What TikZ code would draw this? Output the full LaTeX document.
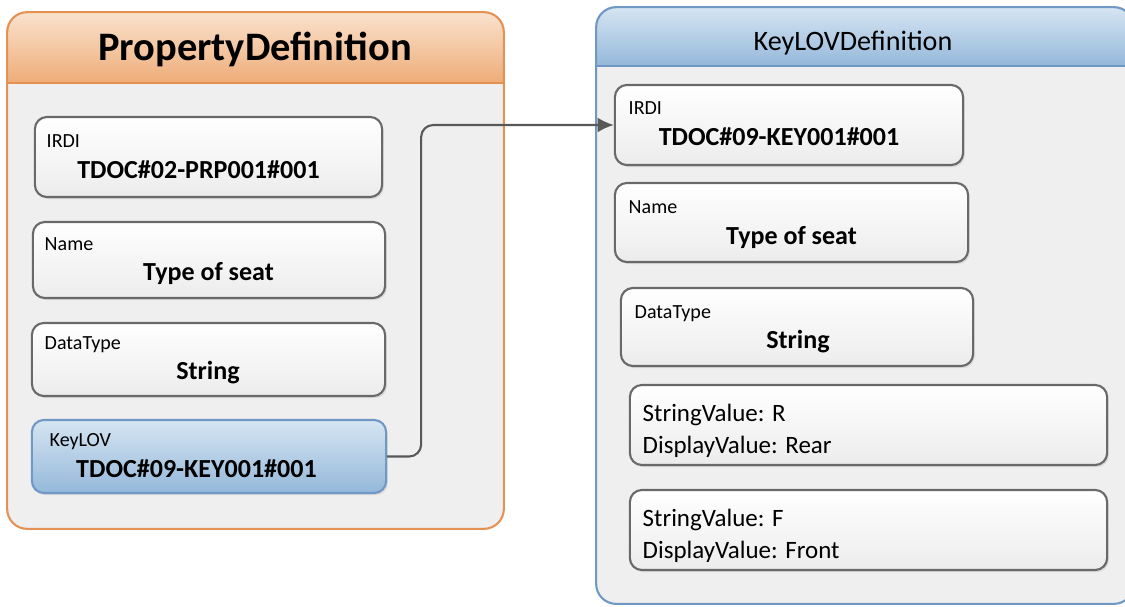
\documentclass[tikz,border=0pt]{standalone}
\usepackage{fontspec}
\setmainfont{Carlito}
\usetikzlibrary{arrows.meta,shadows}

\definecolor{panelbg}{RGB}{239,239,239}
\definecolor{orangeline}{RGB}{228,146,84}
\definecolor{orangetop}{RGB}{250,226,206}
\definecolor{orangebot}{RGB}{238,172,120}
\definecolor{blueline}{RGB}{112,152,196}
\definecolor{bluetop}{RGB}{214,229,242}
\definecolor{bluebot}{RGB}{148,184,218}
\definecolor{fieldline}{RGB}{105,105,105}
\definecolor{fieldbot}{RGB}{236,236,236}
\definecolor{linkcol}{RGB}{88,88,88}

\begin{document}
\begin{tikzpicture}[
  x=0.01cm, y=-0.01cm,
  panel/.style={
    rectangle, rounded corners=0.2cm, fill=panelbg, inner sep=0pt
  },
  field/.style={
    draw=fieldline, line width=0.6pt, rectangle, rounded corners=0.12cm,
    top color=white, bottom color=fieldbot, inner sep=0pt,
    drop shadow={shadow xshift=0.5pt, shadow yshift=-0.6pt, opacity=0.18}
  },
  keyfield/.style={
    field, draw=blueline, top color=bluetop, bottom color=bluebot
  },
  title/.style={anchor=base, inner sep=0pt, font=\fontsize{11.5}{14}\selectfont\bfseries},
  subtitle/.style={anchor=base, inner sep=0pt, font=\fontsize{8}{10}\selectfont},
  lbl/.style={anchor=base west, inner sep=0pt, font=\fontsize{5.7}{7}\selectfont},
  val/.style={anchor=base, inner sep=0pt, font=\fontsize{7.4}{9}\selectfont\bfseries},
  pair/.style={anchor=west, inner sep=0pt, align=left, font=\fontsize{7.1}{9.1}\selectfont},
  link/.style={draw=linkcol, line width=0.6pt, rounded corners=0.12cm,
    -{Latex[length=4.6pt,width=4.2pt]}},
]
\useasboundingbox (0,0) rectangle (1125,606);

% the two definition panels
\node[panel, minimum width=4.95cm, minimum height=5.15cm] (pdef) at (255.5,270.5) {};
\node[panel, minimum width=5.36cm, minimum height=5.95cm] (kdef) at (865,305.5) {};

% header bands
\begin{scope}
  \clip[rounded corners=0.2cm] (pdef.north west) rectangle (pdef.south east);
  \shade[top color=orangetop, bottom color=orangebot] (pdef.north west) rectangle (503,83);
\end{scope}
\begin{scope}
  \clip[rounded corners=0.2cm] (kdef.north west) rectangle (kdef.south east);
  \shade[top color=bluetop, bottom color=bluebot] (kdef.north west) rectangle (1133,66);
\end{scope}
\draw[orangeline, line width=0.7pt] (8,83) -- (503,83);
\draw[blueline, line width=0.7pt] (597,66) -- (1133,66);
\draw[orangeline, line width=0.6pt, rounded corners=0.2cm] (pdef.north west) rectangle (pdef.south east);
\draw[blueline, line width=0.6pt, rounded corners=0.2cm] (kdef.north west) rectangle (kdef.south east);

\node[title]    (ptitle) at (255,60) {PropertyDefinition};
\node[subtitle] (ktitle) at (853,50) {KeyLOVDefinition};

% PropertyDefinition fields
\node[field,    minimum width=3.47cm, minimum height=0.80cm] (pirdi) at (208.5,157) {};
\node[field,    minimum width=3.52cm, minimum height=0.76cm] (pname) at (209,260) {};
\node[field,    minimum width=3.53cm, minimum height=0.73cm] (ptype) at (208.5,359.5) {};
\node[keyfield, minimum width=3.54cm, minimum height=0.73cm] (pkey)  at (209,456.5) {};

\node[lbl] (pirdi-l) at (46,147)    {IRDI};
\node[val] (pirdi-v) at (198.5,178) {TDOC\#02-PRP001\#001};
\node[lbl] (pname-l) at (44,250)    {Name};
\node[val] (pname-v) at (208.5,280) {Type of seat};
\node[lbl] (ptype-l) at (44,349)    {DataType};
\node[val] (ptype-v) at (208,379)   {String};
\node[lbl] (pkey-l)  at (49,446)    {KeyLOV};
\node[val] (pkey-v)  at (196.5,477) {TDOC\#09-KEY001\#001};

% KeyLOVDefinition fields
\node[field, minimum width=3.48cm, minimum height=0.80cm] (kirdi) at (789,125) {};
\node[field, minimum width=3.53cm, minimum height=0.79cm] (kname) at (791.5,222.5) {};
\node[field, minimum width=3.52cm, minimum height=0.78cm] (ktype) at (797,327) {};
\node[field, minimum width=4.77cm, minimum height=0.80cm] (kvalr) at (868.5,425) {};
\node[field, minimum width=4.77cm, minimum height=0.80cm] (kvalf) at (868.5,530) {};

\node[lbl] (kirdi-l) at (628,114)   {IRDI};
\node[val] (kirdi-v) at (779,145)   {TDOC\#09-KEY001\#001};
\node[lbl] (kname-l) at (628,213)   {Name};
\node[val] (kname-v) at (791.5,244) {Type of seat};
\node[lbl] (ktype-l) at (634,318)   {DataType};
\node[val] (ktype-v) at (798,348)   {String};
\node[pair] (kvalr-t) at (642,431)  {StringValue: R\\DisplayValue: Rear};
\node[pair] (kvalf-t) at (642,536)  {StringValue: F\\DisplayValue: Front};

% reference from the KeyLOV field to the list definition
\draw[link] (pkey.east) -- ++(34,0) |- (kirdi.west);

\end{tikzpicture}
\end{document}
